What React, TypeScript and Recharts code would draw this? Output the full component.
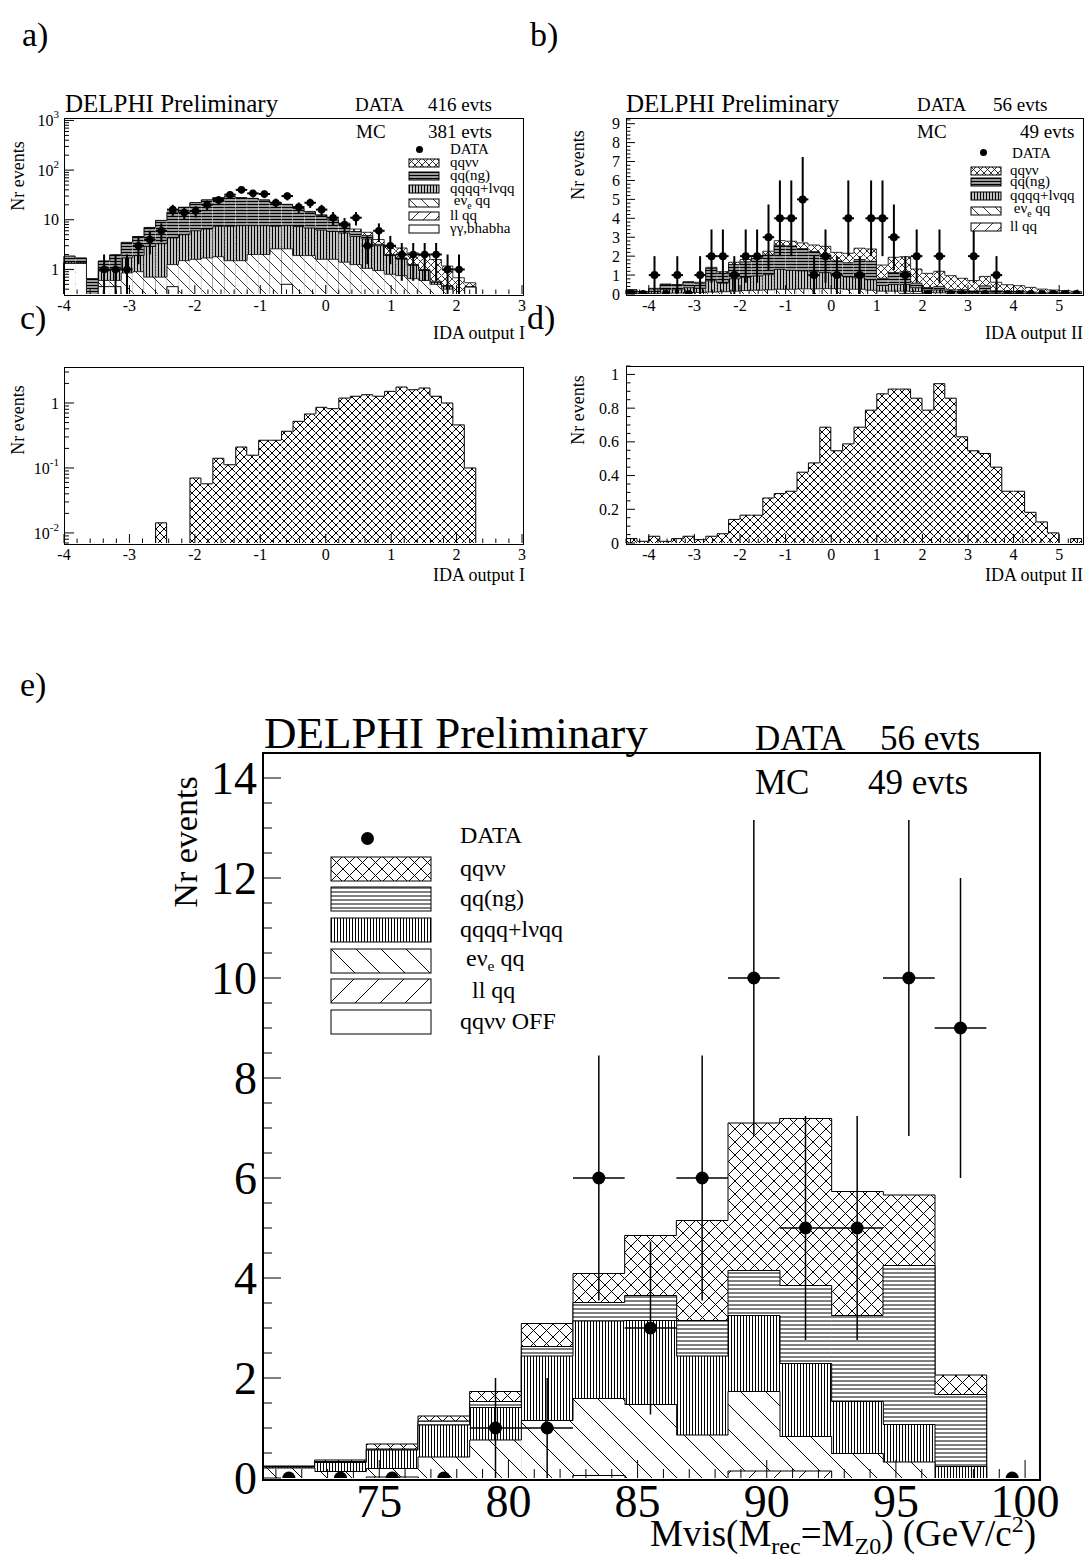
import React from "react";
import { Bar, ComposedChart, ErrorBar, Scatter, XAxis, YAxis } from "recharts";

const SERIF = '"Liberation Serif", "Times New Roman", serif';

// ---------- a) IDA output I, all samples, 40 bins of 0.175 (log y) ----------
const centersA = [
  -3.9125, -3.7375, -3.5625, -3.3875, -3.2125, -3.0375, -2.8625, -2.6875, -2.5125, -2.3375,
  -2.1625, -1.9875, -1.8125, -1.6375, -1.4625, -1.2875, -1.1125, -0.9375, -0.7625, -0.5875,
  -0.4125, -0.2375, -0.0625, 0.1125, 0.2875, 0.4625, 0.6375, 0.8125, 0.9875, 1.1625,
  1.3375, 1.5125, 1.6875, 1.8625, 2.0375, 2.2125, 2.3875, 2.5625, 2.7375, 2.9125,
];
const dataA = [0, 0, 0, 1, 1, 1, 3, 4, 6, 16, 14, 15, 20, 25, 32, 40, 34, 33, 22, 30, 18, 22, 16, 11, 8, 11, 3, 6, 3, 2, 2, 2, 2, 1, 1, 0, 0, 0, 0, 0];
const errA = [0, 0, 0, 1, 1, 1, 1.73, 2, 2.45, 4, 3.74, 3.87, 4.47, 5, 5.66, 6.32, 5.83, 5.74, 4.69, 5.48, 4.24, 4.69, 4, 3.32, 2.83, 3.32, 1.73, 2.45, 1.73, 1.41, 1.41, 1.41, 1.41, 1, 1, 0, 0, 0, 0, 0];
const ggA = [1.32, 1.32, 0, 0.45, 0.45, 0.1, 0.1, 0.05, 0.05, 0.45, 0.1, 0.1, 0.1, 0.1, 0.1, 0.1, 0.1, 0.1, 0.1, 0.5, 0.1, 0.1, 0.1, 0.1, 0.1, 0.05, 0.05, 0.05, 0.05, 0.05, 0.05, 0.05, 0.05, 0.05, 0, 0.44, 0, 0, 0, 0];
const llA = [0, 0, 0, 0, 0, 0, 0, 0, 0, 0, 0, 0, 0, 0, 0, 0, 0, 0, 0, 0, 0, 0.05, 0.05, 0, 0, 0, 0, 0.05, 0, 0, 0, 0, 0, 0, 0, 0, 0, 0, 0, 0];
const evA = [0, 0, 0, 0.15, 0.15, 0.75, 0.8, 0.65, 0.65, 0.8, 1.4, 1.5, 1.6, 1.7, 1.4, 1.4, 1.9, 1.9, 2.5, 2.1, 1.8, 1.75, 1.45, 1.5, 1.3, 1.2, 1.0, 0.85, 0.75, 0.7, 0.6, 0.55, 0.45, 0.35, 0.25, 0, 0, 0, 0, 0];
const qqqqA = [0.1, 0.07, 0.05, 0.33, 0.4, 0.85, 1.0, 2.2, 2.6, 3.05, 3.5, 4.4, 4.8, 5.6, 5.9, 6.1, 5.6, 5.6, 4.8, 5.0, 5.4, 4.9, 4.6, 4.2, 4.0, 3.35, 3.05, 2.05, 1.1, 0.85, 0.55, 0.35, 0.05, 0.05, 0.02, 0, 0, 0, 0, 0];
const qqngA = [0.43, 0.3, 0.6, 0.54, 0.96, 1.8, 2.7, 4.1, 6.39, 9.9, 12.8, 16.15, 18.55, 20.4, 21.8, 20.15, 19.25, 17.3, 14.6, 12.65, 9.5, 7.5, 5.9, 4.0, 2.6, 1.2, 0.7, 0.2, 0.1, 0.1, 0.05, 0.05, 0.03, 0.02, 0.01, 0, 0, 0, 0, 0];
const qqvvA = [0, 0, 0, 0, 0, 0, 0, 0, 0.01, 0, 0, 0.05, 0.05, 0.1, 0.1, 0.15, 0.15, 0.2, 0.2, 0.25, 0.3, 0.4, 0.5, 0.5, 0.6, 0.7, 0.8, 0.8, 0.9, 1.0, 0.9, 0.9, 1.0, 0.7, 0.4, 0.1, 0, 0, 0, 0];

// ---------- b) IDA output II, 40 bins of 0.25 ----------
const centersB = [
  -4.375, -4.125, -3.875, -3.625, -3.375, -3.125, -2.875, -2.625, -2.375, -2.125,
  -1.875, -1.625, -1.375, -1.125, -0.875, -0.625, -0.375, -0.125, 0.125, 0.375,
  0.625, 0.875, 1.125, 1.375, 1.625, 1.875, 2.125, 2.375, 2.625, 2.875,
  3.125, 3.375, 3.625, 3.875, 4.125, 4.375, 4.625, 4.875, 5.125, 5.375,
];
const dataB = [0, 0, 1, 0, 1, 0, 1, 2, 2, 1, 2, 2, 3, 4, 4, 5, 1, 2, 1, 4, 1, 4, 4, 3, 1, 2, 0, 2, 0, 0, 2, 0, 1, 0, 0, 0, 0, 0, 0, 0];
const errB = [0, 0, 1, 0, 1, 0, 1, 1.41, 1.41, 1, 1.41, 1.41, 1.73, 2, 2, 2.24, 1, 1.41, 1, 2, 1, 2, 2, 1.73, 1, 1.41, 0, 1.41, 0, 0, 1.41, 0, 1, 0, 0, 0, 0, 0, 0, 0];
const llB = [0, 0, 0, 0, 0, 0, 0, 0, 0, 0, 0, 0, 0, 0, 0, 0, 0, 0, 0, 0, 0, 0, 0, 0, 0.03, 0.03, 0, 0, 0, 0, 0, 0, 0, 0, 0, 0, 0, 0, 0, 0];
const evB = [0.02, 0.01, 0.03, 0.05, 0.05, 0.08, 0.08, 0.1, 0.12, 0.15, 0.18, 0.2, 0.22, 0.25, 0.25, 0.27, 0.27, 0.28, 0.28, 0.25, 0.25, 0.2, 0.15, 0.15, 0.12, 0.1, 0.08, 0.06, 0.05, 0.04, 0.03, 0.03, 0.02, 0.02, 0.01, 0.01, 0.01, 0, 0, 0];
const qqqqB = [0.05, 0.03, 0.1, 0.2, 0.17, 0.25, 0.22, 0.6, 0.45, 0.65, 0.7, 0.75, 0.8, 1.05, 1.0, 0.95, 0.9, 0.85, 0.7, 0.65, 0.6, 0.55, 0.3, 0.35, 0.35, 0.2, 0.12, 0.15, 0.08, 0.07, 0.05, 0.1, 0.04, 0.03, 0.03, 0.02, 0.01, 0.02, 0.02, 0.01];
const qqngB = [0.14, 0.08, 0.14, 0.25, 0.25, 0.29, 0.27, 0.65, 0.53, 0.76, 0.82, 0.93, 1.04, 1.27, 1.29, 1.18, 1.07, 0.94, 0.77, 0.75, 0.97, 0.98, 0.38, 0.64, 0.67, 0.24, 0.14, 0.19, 0.09, 0.12, 0.08, 0.3, 0.11, 0.09, 0.1, 0.07, 0.04, 0.07, 0.06, 0.05];
const qqvvB = [0.02, 0, 0.03, 0.03, 0.03, 0.03, 0.05, 0.06, 0.08, 0.12, 0.12, 0.15, 0.2, 0.25, 0.25, 0.3, 0.35, 0.45, 0.45, 0.5, 0.6, 0.65, 0.7, 0.8, 0.8, 0.75, 0.75, 0.8, 0.75, 0.6, 0.55, 0.5, 0.45, 0.35, 0.3, 0.25, 0.2, 0.12, 0.1, 0.08];

// ---------- c) qqvv signal, IDA output I (log y) ----------
const signalC = [0, 0, 0, 0, 0, 0, 0, 0, 0.0143, 0, 0, 0.07, 0.057, 0.141, 0.112, 0.21, 0.157, 0.267, 0.267, 0.367, 0.522, 0.677, 0.858, 0.818, 1.19, 1.27, 1.34, 1.27, 1.51, 1.76, 1.6, 1.7, 1.27, 1.0, 0.46, 0.1, 0, 0, 0, 0];

// ---------- d) qqvv signal, IDA output II ----------
const signalD = [0.026, 0.01, 0.04, 0.01, 0.026, 0.04, 0.02, 0.04, 0.055, 0.14, 0.165, 0.165, 0.267, 0.293, 0.307, 0.42, 0.475, 0.687, 0.547, 0.588, 0.687, 0.788, 0.885, 0.913, 0.913, 0.859, 0.788, 0.945, 0.859, 0.63, 0.547, 0.531, 0.45, 0.307, 0.307, 0.182, 0.125, 0.06, 0, 0.026];

// ---------- e) Mvis, 2 GeV bins ----------
const centersE = [71.5, 73.5, 75.5, 77.5, 79.5, 81.5, 83.5, 85.5, 87.5, 89.5, 91.5, 93.5, 95.5, 97.5, 99.5];
const dataE = [0, 0, 0, 0, 1, 1, 6, 3, 6, 10, 5, 5, 10, 9, 0];
const errE = [0, 0, 0, 0, 1, 1, 2.45, 1.73, 2.45, 3.16, 2.24, 2.24, 3.16, 3, 0];
const offE = [0, 0, 0, 0, 0, 0, 0.05, 0, 0, 0, 0, 0, 0, 0, 0];
const llE = [0, 0, 0.02, 0, 0, 0, 0, 0, 0, 0.14, 0.14, 0, 0, 0, 0];
const evE = [0.2, 0.13, 0.17, 0.42, 0.76, 1.15, 1.54, 1.47, 0.86, 1.59, 0.69, 0.49, 0.32, 0, 0];
const qqqqE = [0.02, 0.18, 0.37, 0.64, 0.65, 1.29, 1.55, 1.68, 1.58, 1.52, 1.46, 1.04, 0.75, 0.23, 0];
const qqngE = [0.01, 0.02, 0.02, 0.08, 0.12, 0.19, 0.37, 0.5, 0.71, 0.9, 1.56, 1.72, 3.18, 1.44, 0];
const qqvvE = [0.01, 0.03, 0.1, 0.1, 0.2, 0.46, 0.58, 1.2, 2.0, 2.95, 3.34, 2.48, 1.41, 0.39, 0];

const majorsIdaI = [-4, -3, -2, -1, 0, 1, 2, 3];
const majorsIdaII = [-4, -3, -2, -1, 0, 1, 2, 3, 4, 5];
const majorsMvis = [75, 80, 85, 90, 95, 100];

type Comp = { key: string; values: number[]; pat: string };
type Pat = { cross: number; hl: number; hlw: number; vl: number; vlw: number; diag: number; lw: number };
type Plot = { l: number; t: number; r: number; b: number };

const PAT_SMALL: Pat = { cross: 7, hl: 3, hlw: 1.8, vl: 3, vlw: 1.5, diag: 12, lw: 0.8 };
const PAT_SIG: Pat = { ...PAT_SMALL, cross: 8, lw: 1 };
const PAT_BIG: Pat = { cross: 13, hl: 4, hlw: 1, vl: 3, vlw: 1, diag: 25, lw: 1 };

const range = (a: number, b: number, s: number) => {
  const out: number[] = [];
  for (let i = 0; a + i * s <= b + 1e-9; i++) out.push(Math.round((a + i * s) * 1e6) / 1e6);
  return out;
};
const logTicks = (lo: number, hi: number) => {
  const out: number[] = [];
  for (let e = -3; e <= 4; e++)
    for (let m = 1; m <= 9; m++) {
      const v = +(m * Math.pow(10, e)).toPrecision(6);
      if (v >= lo && v <= hi) out.push(v);
    }
  return out;
};
const isMajor = (majors: number[], v: number) => majors.some((m) => Math.abs(m - v) < 1e-6 * Math.max(1, Math.abs(m)));

// text with _{sub} and ^{sup}
function rich(s: string) {
  const parts: React.ReactNode[] = [];
  const re = /([_^])\{([^}]*)\}/g;
  let last = 0;
  let m: RegExpExecArray | null;
  let k = 0;
  while ((m = re.exec(s))) {
    if (m.index > last) parts.push(s.slice(last, m.index));
    parts.push(
      <span key={k++} style={{ fontSize: "0.65em", verticalAlign: m[1] === "_" ? "-0.35em" : "0.6em" }}>
        {m[2]}
      </span>
    );
    last = m.index + m[0].length;
  }
  if (last < s.length) parts.push(s.slice(last));
  return parts;
}

function Txt({ x, y, size, children, anchor = "start" }: { x: number; y: number; size: number; children: React.ReactNode; anchor?: string }) {
  const tx = anchor === "end" ? "-100%" : anchor === "middle" ? "-50%" : "0";
  return (
    <div style={{ position: "absolute", left: x, top: y, fontSize: size, lineHeight: 1, whiteSpace: "pre", transform: `translate(${tx}, -50%)`, fontFamily: SERIF }}>
      {children}
    </div>
  );
}

function VTxt({ x, y, size, children }: { x: number; y: number; size: number; children: React.ReactNode }) {
  return (
    <div style={{ position: "absolute", left: x, top: y, fontSize: size, lineHeight: 1, whiteSpace: "nowrap", transform: "translate(-50%, -50%) rotate(-90deg)", fontFamily: SERIF }}>
      {children}
    </div>
  );
}

function Patterns({ id, s }: { id: string; s: Pat }) {
  const d = s.diag;
  const c = s.cross;
  const back = `M0,0L${d},${d}M-1,${d - 1}L1,${d + 1}M${d - 1},-1L${d + 1},1`;
  const fwd = `M0,${d}L${d},0M-1,1L1,-1M${d - 1},${d + 1}L${d + 1},${d - 1}`;
  return (
    <defs>
      <pattern id={`${id}-white`} width={4} height={4} patternUnits="userSpaceOnUse">
        <rect width={4} height={4} fill="#fff" />
      </pattern>
      <pattern id={`${id}-cross`} width={c} height={c} patternUnits="userSpaceOnUse">
        <rect width={c} height={c} fill="#fff" />
        <path d={`M0,0L${c},${c}M${c},0L0,${c}M-1,1L1,-1M${c - 1},${c + 1}L${c + 1},${c - 1}M-1,${c - 1}L1,${c + 1}M${c - 1},-1L${c + 1},1`} stroke="#000" strokeWidth={s.lw} />
      </pattern>
      <pattern id={`${id}-hl`} width={4} height={s.hl} patternUnits="userSpaceOnUse">
        <rect width={4} height={s.hl} fill="#fff" />
        <line x1={0} x2={4} y1={s.hl / 2} y2={s.hl / 2} stroke="#000" strokeWidth={s.hlw} />
      </pattern>
      <pattern id={`${id}-vl`} width={s.vl} height={4} patternUnits="userSpaceOnUse">
        <rect width={s.vl} height={4} fill="#fff" />
        <line x1={s.vl / 2} x2={s.vl / 2} y1={0} y2={4} stroke="#000" strokeWidth={s.vlw} />
      </pattern>
      <pattern id={`${id}-back`} width={d} height={d} patternUnits="userSpaceOnUse">
        <rect width={d} height={d} fill="#fff" />
        <path d={back} stroke="#000" strokeWidth={s.lw} />
      </pattern>
      <pattern id={`${id}-fwd`} width={d} height={d} patternUnits="userSpaceOnUse">
        <rect width={d} height={d} fill="#fff" />
        <path d={fwd} stroke="#000" strokeWidth={s.lw} />
      </pattern>
    </defs>
  );
}

type TickCfg = { majors: number[]; major: number; minor: number; font: number; gap: number; fmt: (v: number) => React.ReactNode; axis?: number };

function XTick(props: any) {
  const { x, payload, cfg } = props as { x: number; payload: { value: number }; cfg: TickCfg };
  const y = cfg.axis || 0;
  const v = payload.value;
  const maj = isMajor(cfg.majors, v);
  return (
    <g>
      <line x1={x} x2={x} y1={y} y2={y - (maj ? cfg.major : cfg.minor)} stroke="#000" strokeWidth={1} />
      {maj && (
        <text x={x} y={y + cfg.gap} dy="0.71em" textAnchor="middle" fontSize={cfg.font} fontFamily={SERIF} fill="#000">
          {cfg.fmt(v)}
        </text>
      )}
    </g>
  );
}

function YTick(props: any) {
  const { y, payload, cfg } = props as { y: number; payload: { value: number }; cfg: TickCfg };
  const x = cfg.axis || 0;
  const v = payload.value;
  const maj = isMajor(cfg.majors, v);
  return (
    <g>
      <line x1={x} x2={x + (maj ? cfg.major : cfg.minor)} y1={y} y2={y} stroke="#000" strokeWidth={1} />
      {maj && (
        <text x={x - cfg.gap} y={y} dy="0.35em" textAnchor="end" fontSize={cfg.font} fontFamily={SERIF} fill="#000">
          {cfg.fmt(v)}
        </text>
      )}
    </g>
  );
}

type HistProps = {
  id: string;
  plot: Plot;
  ML: number;
  XH: number;
  MR?: number;
  bins: number[];
  comps: Comp[];
  pat: Pat;
  log?: boolean;
  xDomain: [number, number];
  yDomain: [number, number];
  xTicks: number[];
  yTicks: number[];
  xCfg: TickCfg;
  yCfg: TickCfg;
  data?: number[];
  err?: number[];
  half?: number;
  dotR?: number;
  errW?: number;
  frameW: number;
};

function Hist(p: HistProps) {
  const { id, plot, ML, XH } = p;
  const MT = 14;
  const MR = p.MR ?? 12;
  const w = plot.r - plot.l;
  const h = plot.b - plot.t;
  const floor = p.log ? p.yDomain[0] : 0;
  const rows = p.bins.map((x, i) => {
    const row: Record<string, number | string | null> = { bin: String(i), x };
    let cum = 0;
    p.comps.forEach((c) => {
      cum += c.values[i];
      row[c.key] = cum > floor + 1e-9 ? cum : null;
    });
    return row;
  });
  const pts = (p.data || [])
    .map((n, i) => {
      const e = p.err ? p.err[i] : 0;
      const lowErr = p.log ? Math.min(e, n - floor) : e;
      return { x: p.bins[i], y: n, ex: n > 0 ? p.half || 0 : 0, ey: [lowErr, e] };
    })
    .filter((d) => !p.log || d.y > 0);

  // histogram-style outline: top edge plus the walls that rise above a neighbour
  const fv = (u: any) => (u == null ? 0 : p.log ? Math.log(u / floor) : (u as number));
  const outline = (key: string, pat: string) => (sp: any) => {
    const { x, y, width, height } = sp;
    if (!(height > 0)) return <g />;
    const idx = Number(sp.payload?.bin ?? sp.index);
    const own = fv(rows[idx]?.[key]);
    const side = (u: any) => Math.min(height, own > 0 ? (height * fv(u)) / own : 0);
    const base = y + height;
    const hl = side(rows[idx - 1]?.[key]);
    const hr = side(rows[idx + 1]?.[key]);
    const d = `M${x},${base - hl}L${x},${y}L${x + width},${y}L${x + width},${base - hr}`;
    return (
      <g>
        <rect x={x} y={y} width={width} height={height} fill={`url(#${id}-${pat})`} />
        <path d={d} fill="none" stroke="#000" strokeWidth={p.pat.lw} />
      </g>
    );
  };

  return (
    <>
      <div style={{ position: "absolute", left: plot.l - ML, top: plot.t - MT }}>
        <ComposedChart width={ML + w + MR} height={MT + h + XH} data={rows} margin={{ top: MT, right: MR, bottom: 0, left: 0 }} barCategoryGap={0} barGap={0}>
          <Patterns id={id} s={p.pat} />
          {p.comps.map((c) => (
            <XAxis key={c.key} xAxisId={`cat-${c.key}`} dataKey="bin" type="category" hide />
          ))}
          <XAxis
            xAxisId="num"
            dataKey="x"
            type="number"
            domain={p.xDomain}
            allowDataOverflow
            ticks={p.xTicks}
            interval={0}
            height={XH}
            axisLine={false}
            tickLine={false}
            tickSize={0}
            tickMargin={0}
            tick={(t: any) => <XTick {...t} cfg={{ ...p.xCfg, axis: MT + h }} />}
          />
          <YAxis
            yAxisId="y"
            type="number"
            scale={p.log ? "log" : "linear"}
            domain={p.yDomain}
            allowDataOverflow
            ticks={p.yTicks}
            interval={0}
            width={ML}
            axisLine={false}
            tickLine={false}
            tickSize={0}
            tickMargin={0}
            tick={(t: any) => <YTick {...t} cfg={{ ...p.yCfg, axis: ML }} />}
          />
          {[...p.comps].reverse().map((c) => (
            <Bar
              key={c.key}
              xAxisId={`cat-${c.key}`}
              yAxisId="y"
              dataKey={c.key}
              fill={`url(#${id}-${c.pat})`}
              shape={outline(c.key, c.pat)}
              isAnimationActive={false}
            />
          ))}
          {p.data && (
            <Scatter
              xAxisId="num"
              yAxisId="y"
              data={pts}
              dataKey="y"
              isAnimationActive={false}
              shape={(s: any) => <circle cx={s.cx} cy={s.cy} r={p.dotR} fill="#000" />}
            >
              <ErrorBar dataKey="ey" direction="y" width={0} stroke="#000" strokeWidth={p.errW} />
              <ErrorBar dataKey="ex" direction="x" width={0} stroke="#000" strokeWidth={p.errW} />
            </Scatter>
          )}
        </ComposedChart>
      </div>
      <div
        style={{
          position: "absolute",
          left: plot.l - p.frameW / 2,
          top: plot.t - p.frameW / 2,
          width: w,
          height: h,
          border: `${p.frameW}px solid #000`,
          pointerEvents: "none",
        }}
      />
    </>
  );
}

function Swatch({ id, pat, x, y, w, h }: { id: string; pat: string; x: number; y: number; w: number; h: number }) {
  return (
    <svg style={{ position: "absolute", left: x, top: y - h / 2 }} width={w + 2} height={h + 2}>
      <rect x={1} y={1} width={w} height={h} fill={`url(#${id}-${pat})`} stroke="#000" strokeWidth={1} />
    </svg>
  );
}

function Dot({ x, y, r }: { x: number; y: number; r: number }) {
  return (
    <svg style={{ position: "absolute", left: x - r, top: y - r }} width={2 * r} height={2 * r}>
      <circle cx={r} cy={r} r={r} fill="#000" />
    </svg>
  );
}

const plain = (v: number) => String(v);
const logLabel = (v: number) => {
  if (v === 1) return "1";
  if (v === 10) return "10";
  const e = Math.round(Math.log10(v));
  return (
    <>
      <tspan>10</tspan>
      <tspan dy={-8} fontSize={11}>
        {String(e)}
      </tspan>
    </>
  );
};

const smallX = (majors: number[]): TickCfg => ({ majors, major: 9, minor: 4.5, font: 16, gap: 6, fmt: plain });

export default function App() {
  const plotA: Plot = { l: 64, t: 118, r: 522, b: 294 };
  const plotB: Plot = { l: 626, t: 118, r: 1082, b: 294 };
  const plotC: Plot = { l: 64, t: 367, r: 522, b: 543 };
  const plotD: Plot = { l: 626, t: 366, r: 1082, b: 543 };
  const plotE: Plot = { l: 263, t: 753, r: 1038, b: 1478 };

  const compsA: Comp[] = [
    { key: "gg", values: ggA, pat: "white" },
    { key: "ll", values: llA, pat: "fwd" },
    { key: "ev", values: evA, pat: "back" },
    { key: "qqqq", values: qqqqA, pat: "vl" },
    { key: "qqng", values: qqngA, pat: "hl" },
    { key: "qqvv", values: qqvvA, pat: "cross" },
  ];
  const compsB: Comp[] = [
    { key: "ll", values: llB, pat: "fwd" },
    { key: "ev", values: evB, pat: "back" },
    { key: "qqqq", values: qqqqB, pat: "vl" },
    { key: "qqng", values: qqngB, pat: "hl" },
    { key: "qqvv", values: qqvvB, pat: "cross" },
  ];
  const compsE: Comp[] = [
    { key: "off", values: offE, pat: "white" },
    { key: "ll", values: llE, pat: "fwd" },
    { key: "ev", values: evE, pat: "back" },
    { key: "qqqq", values: qqqqE, pat: "vl" },
    { key: "qqng", values: qqngE, pat: "hl" },
    { key: "qqvv", values: qqvvE, pat: "cross" },
  ];

  const yDomA: [number, number] = [0.32, 1120];
  const yDomC: [number, number] = [0.007, 3.58];

  const legA = [
    { pat: "cross", label: "qqνν", y: 162 },
    { pat: "hl", label: "qq(ng)", y: 175 },
    { pat: "vl", label: "qqqq+lνqq", y: 188 },
    { pat: "back", label: " eν_{e} qq", y: 202 },
    { pat: "fwd", label: "ll qq", y: 215 },
    { pat: "white", label: "γγ,bhabha", y: 228 },
  ];
  const legB = [
    { pat: "cross", label: "qqνν", y: 170 },
    { pat: "hl", label: "qq(ng)", y: 181 },
    { pat: "vl", label: "qqqq+lνqq", y: 195 },
    { pat: "back", label: " eν_{e} qq", y: 210 },
    { pat: "fwd", label: "ll qq", y: 226 },
  ];
  const legE = [
    { pat: "cross", label: "qqνν", y: 868 },
    { pat: "hl", label: "qq(ng)", y: 898 },
    { pat: "vl", label: "qqqq+lνqq", y: 929 },
    { pat: "back", label: " eν_{e} qq", y: 960 },
    { pat: "fwd", label: "  ll qq", y: 990 },
    { pat: "white", label: "qqνν OFF", y: 1021 },
  ];

  return (
    <div style={{ position: "absolute", left: 0, top: 0, width: 1087, height: 1562, background: "#fff", fontFamily: SERIF, overflow: "hidden" }}>
      {/* a */}
      <Hist
        id="pa"
        plot={plotA}
        ML={60}
        XH={30}
        bins={centersA}
        comps={compsA}
        pat={PAT_SMALL}
        log
        xDomain={[-4, 3]}
        yDomain={yDomA}
        xTicks={range(-4, 3, 0.2)}
        yTicks={logTicks(yDomA[0], yDomA[1])}
        xCfg={smallX(majorsIdaI)}
        yCfg={{ majors: [1, 10, 100, 1000], major: 10, minor: 5, font: 16, gap: 5, fmt: logLabel }}
        data={dataA}
        err={errA}
        half={0.0875}
        dotR={3.8}
        errW={2}
        frameW={1}
      />
      {/* b */}
      <Hist
        id="pb"
        plot={plotB}
        ML={60}
        XH={30}
        MR={4}
        bins={centersB}
        comps={compsB}
        pat={PAT_SMALL}
        xDomain={[-4.5, 5.5]}
        yDomain={[0, 9.3]}
        xTicks={range(-4.4, 5.4, 0.2)}
        yTicks={range(0, 9.2, 0.2)}
        xCfg={smallX(majorsIdaII)}
        yCfg={{ majors: [0, 1, 2, 3, 4, 5, 6, 7, 8, 9], major: 9, minor: 4.5, font: 16, gap: 6, fmt: plain }}
        data={dataB}
        err={errB}
        half={0.125}
        dotR={4}
        errW={2}
        frameW={1}
      />
      {/* c */}
      <Hist
        id="pc"
        plot={plotC}
        ML={60}
        XH={30}
        bins={centersA}
        comps={[{ key: "sig", values: signalC, pat: "cross" }]}
        pat={PAT_SIG}
        log
        xDomain={[-4, 3]}
        yDomain={yDomC}
        xTicks={range(-4, 3, 0.2)}
        yTicks={logTicks(yDomC[0], yDomC[1])}
        xCfg={smallX(majorsIdaI)}
        yCfg={{ majors: [0.01, 0.1, 1], major: 10, minor: 5, font: 16, gap: 5, fmt: logLabel }}
        frameW={1}
      />
      {/* d */}
      <Hist
        id="pd"
        plot={plotD}
        ML={60}
        XH={30}
        MR={4}
        bins={centersB}
        comps={[{ key: "sig", values: signalD, pat: "cross" }]}
        pat={PAT_SIG}
        xDomain={[-4.5, 5.5]}
        yDomain={[0, 1.05]}
        xTicks={range(-4.4, 5.4, 0.2)}
        yTicks={range(0, 1.05, 0.05)}
        xCfg={smallX(majorsIdaII)}
        yCfg={{ majors: [0, 0.2, 0.4, 0.6, 0.8, 1], major: 9, minor: 4.5, font: 16, gap: 7, fmt: plain }}
        frameW={1}
      />
      {/* e */}
      <Hist
        id="pe"
        plot={plotE}
        ML={100}
        XH={70}
        MR={45}
        bins={centersE}
        comps={compsE}
        pat={PAT_BIG}
        xDomain={[70.5, 100.5]}
        yDomain={[0, 14.5]}
        xTicks={range(71, 100, 1)}
        yTicks={range(0, 14.5, 0.5)}
        xCfg={{ majors: majorsMvis, major: 18, minor: 9, font: 46, gap: 6, fmt: plain }}
        yCfg={{ majors: [0, 2, 4, 6, 8, 10, 12, 14], major: 18, minor: 9, font: 46, gap: 6, fmt: plain }}
        data={dataE}
        err={errE}
        half={1}
        dotR={6.5}
        errW={1.5}
        frameW={2}
      />

      {/* panel letters */}
      <Txt x={22} y={35} size={34}>a)</Txt>
      <Txt x={530} y={35} size={34}>b)</Txt>
      <Txt x={20} y={318} size={34}>c)</Txt>
      <Txt x={527} y={318} size={34}>d)</Txt>
      <Txt x={20} y={685} size={34}>e)</Txt>

      {/* a texts */}
      <Txt x={65} y={103} size={25}>DELPHI Preliminary</Txt>
      <Txt x={355} y={104} size={19}>DATA</Txt>
      <Txt x={428} y={104} size={19}>416 evts</Txt>
      <Txt x={356} y={131} size={19}>MC</Txt>
      <Txt x={428} y={131} size={19}>381 evts</Txt>
      <VTxt x={18} y={176} size={18}>Nr events</VTxt>
      <Txt x={525} y={333} size={18} anchor="end">IDA output I</Txt>
      <Dot x={419} y={149} r={3.5} />
      <Txt x={450} y={149} size={15}>DATA</Txt>
      {legA.map((l) => (
        <React.Fragment key={l.pat}>
          <Swatch id="pa" pat={l.pat} x={408} y={l.y} w={30} h={8} />
          <Txt x={450} y={l.y} size={15}>{rich(l.label)}</Txt>
        </React.Fragment>
      ))}

      {/* b texts */}
      <Txt x={626} y={103} size={25}>DELPHI Preliminary</Txt>
      <Txt x={917} y={104} size={19}>DATA</Txt>
      <Txt x={993} y={104} size={19}>56 evts</Txt>
      <Txt x={917} y={131} size={19}>MC</Txt>
      <Txt x={1020} y={131} size={19}>49 evts</Txt>
      <VTxt x={578} y={165} size={18}>Nr events</VTxt>
      <Txt x={1083} y={333} size={18} anchor="end">IDA output II</Txt>
      <Dot x={983} y={152} r={3.5} />
      <Txt x={1012} y={153} size={15}>DATA</Txt>
      {legB.map((l) => (
        <React.Fragment key={l.pat}>
          <Swatch id="pb" pat={l.pat} x={970} y={l.y} w={30} h={8} />
          <Txt x={1010} y={l.y} size={15}>{rich(l.label)}</Txt>
        </React.Fragment>
      ))}

      {/* c, d texts */}
      <VTxt x={18} y={420} size={18}>Nr events</VTxt>
      <Txt x={525} y={575} size={18} anchor="end">IDA output I</Txt>
      <VTxt x={578} y={410} size={18}>Nr events</VTxt>
      <Txt x={1083} y={575} size={18} anchor="end">IDA output II</Txt>

      {/* e texts */}
      <Txt x={264} y={733} size={45}>DELPHI Preliminary</Txt>
      <Txt x={755} y={738} size={35}>DATA</Txt>
      <Txt x={880} y={738} size={35}>56 evts</Txt>
      <Txt x={755} y={782} size={35}>MC</Txt>
      <Txt x={868} y={782} size={35}>49 evts</Txt>
      <VTxt x={186} y={842} size={34}>Nr events</VTxt>
      <Txt x={1036} y={1535} size={37} anchor="end">{rich("Mvis(M_{rec}=M_{Z0}) (GeV/c^{2})")}</Txt>
      <Dot x={367} y={838} r={6.5} />
      <Txt x={460} y={835} size={24}>DATA</Txt>
      {legE.map((l) => (
        <React.Fragment key={l.pat}>
          <Swatch id="pe" pat={l.pat} x={330} y={l.y} w={100} h={24} />
          <Txt x={460} y={l.y} size={24}>{rich(l.label)}</Txt>
        </React.Fragment>
      ))}
    </div>
  );
}
